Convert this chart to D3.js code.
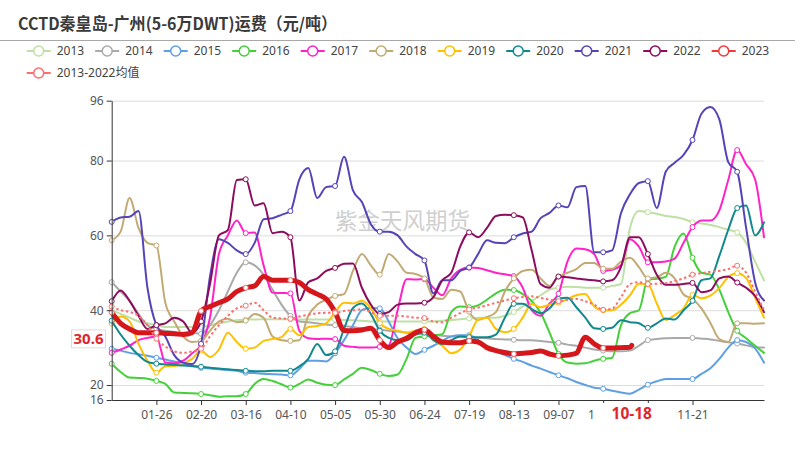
<!DOCTYPE html>
<html><head><meta charset="utf-8">
<script src="https://cdn.jsdelivr.net/npm/d3@7"></script>
<style>body{margin:0;background:#fff;} svg{display:block;}</style>
</head><body><svg id="c" width="806" height="460"></svg>
<script>
const title = "CCTD秦皇岛-广州(5-6万DWT)运费（元/吨）";
const watermark = "紫金天风期货";
const seriesNames = ["2013","2014","2015","2016","2017","2018","2019","2020","2021","2022","2023","2013-2022均值"];
const seriesColors = ["#bfe0a4","#a9a9a9","#5f9fe4","#45d03a","#ff22c8","#c2aa74","#ffc000","#11898c","#5444b8","#8c0c5e","#d5161b","#ff6e6e"];
const tickLabels = ["01-26","02-20","03-16","04-10","05-05","05-30","06-24","07-19","08-13","09-07","10-02","10-27","11-21"];
const hiddenTickLabels = ["10-27"];
const yTicks = [16,20,40,60,80,96];
const gridValues = [20,40,60,80,96];
const sampleStep = 5; // one value every 5 days, starting 01-01

const s2013 = [40,39,38,37,36.5,36,35.5,35.5,35.5,35.5, 35.5,36,36.5,37,37.3,37.5,37.5,37.6,37.6,37.6, 37.6,37.5,37.5,37.5,37.5,37.5,37.4,37.3,37.2,37, 37,37,37,37,37,37,37,37.2,37.4,37.6, 37.8,38,38,38,38.5,39.5,41,42.5,44,45.5, 46,46.3,46.2,46,46,46,46.5,47,62,66.5, 66.2,65.8,65.2,64.9,64.4,63.5,63.2,62.8,62.2,61.5, 60.8,58,53,48];
const s2014 = [47.5,45,42.5,39,36,35,34.5,34.2,34,34, 33.7,36,40,45,50,52.8,52,49.5,45.5,41.5, 38.5,37,36.8,36.5,36.2,36,35.8,35.5,35.2,35, 34.8,34.5,34.3,34,33.8,33.6,33.4,33.2,33,33, 32.8,32.6,32.5,32.3,32.2,32.1,32,32,31.8,31.5, 31.3,30.8,30.5,30,29.5,29.2,29,29,29.2,30.5, 32,32.3,32.5,32.6,32.6,32.6,32.4,32.2,31.8,31.4, 31.1,30.6,30.1,30];
const s2015 = [29.7,29.2,28.6,28.2,27.8,27.3,26.8,26.3,25.6,25, 24.6,24.4,24.2,24,23.8,23.3,23.2,23,22.9,22.8, 22.6,24.3,26.5,26.5,26.3,28.5,32,36,40,40.6, 40.5,37,32.5,30,28.3,29.4,30.5,31.8,33,33.3, 33.3,32,30,29,28,27,26.2,25.2,24.4,23.5, 22.6,21.8,20.8,20,19.3,19,18.5,18,17.7,18.8, 20.1,21,21.6,21.6,21.6,21.6,23,24.5,27,30, 32,31.5,29.8,26];
const s2016 = [25.7,23.5,22,21.9,21.7,21.1,20.3,18,17.9,17.8, 17.6,17.3,16.9,17,17,17.6,20.3,21.6,21.1,20.2, 19.3,20.3,21.5,20.6,20.1,20,21.5,23,24.6,24, 23,22.4,22.8,27,32.6,33,33.3,33.6,39.5,41, 40.8,41.3,42.8,44.5,45.5,45.4,44.3,42.5,39.3,34, 28.3,26,25.7,25.8,26.5,27,27.3,36,39.2,40, 48.2,48.4,48.9,57,60.5,54,50,49.5,45.5,39.5, 34.5,32.5,30.5,28.6];
const s2017 = [28.6,29.5,30.5,32,32.6,33,26,25.8,26.5,28.5, 30.8,38,55,60,64,60.6,60.8,52,44.7,44.6, 44.5,34.5,32.5,32.3,32.4,32.3,30.5,30.2,30,30, 30.2,30.6,40,48.3,48.2,48.3,46,44,48.5,50.8, 51.4,51.3,50.7,50,49.6,49.1,46,40,38.5,41.8, 44.4,53,56.5,56.3,55,50.5,50.8,52,59,57, 52.8,52.8,53,53.8,58,62.2,64,64,66.7,74.8, 82.8,79,75,59.5];
const s2018 = [58.7,61,70,62,58,57.3,42,37,33,31.5, 31.8,34.5,37,37.7,36.8,37.2,39,38,33,32, 31.8,32,38.5,41.5,42.8,43.8,44.3,50.5,55,52, 49.5,55,53,50,49.7,48.5,43.4,43,45.5,45, 39.6,37.4,38.2,39.5,45,48.5,50.5,50.8,48.5,46.5, 49,50,51,52.6,52.6,51.1,51.1,53,54,51.5, 48.5,48.8,50,48.5,44.2,43,40.5,36.6,32.3,31.5, 36.5,36.5,36.4,36.5];
const s2019 = [36.4,38.3,37,31,26.5,23.3,25,25.1,25.8,27, 29.2,27.5,29.5,34,31.5,29.7,30,31.8,32.3,32.8, 35,33.3,35.5,35.8,36.5,39.5,42,41.8,42.5,40.5, 36.5,35,34.5,34,34.5,35,32,30.5,28.5,29.5, 33,37.5,38,35,34.1,35,38,41.7,40.8,41.5, 42,43,44,44.3,41,40,40,41.5,44,47.1, 47,41.8,37.4,38.7,40.5,44.1,43.2,43.9,45.9,48.9, 49.9,48.6,43.4,38];
const s2020 = [37.2,33.5,30.5,28,26.2,25.7,25.5,25.4,25.2,25.1, 24.9,24.6,24.4,24.2,24,23.8,23.7,23.7,23.8,23.8, 23.8,25,27,31,28,29,35,40.6,41.8,39, 34.5,32.6,32,32,33.5,34,32,31,32,33, 32.8,32.8,32.8,33.5,38,41.7,41.7,40.3,39.2,40.5, 43,43.3,40.8,38,35.2,35,35.3,37.3,36.8,36.5, 35.3,36.5,37.8,37.5,40,42.5,48,48.5,54.5,61.5, 67.3,68,60,63.5];
const s2021 = [63.6,64.8,65,66.5,46,36,33,28,26,25.6, 31,49,59,58,56,55,58,64.3,64.6,65.5, 66.5,75,78,70,72.9,73.2,81,72,68.9,63, 61,61,60,57,55,53.3,44.5,48,48,50.5, 51.4,55,58.7,58,57.9,59.5,60.5,61,64.6,66, 68,67.5,72.9,73.2,55.5,55.5,56,66,71,74, 74.5,67.3,77,79.4,81.5,85.5,92.5,94.3,91,79.6, 77,62,47.5,42.6];
const s2022 = [42.4,45.3,42.5,38.5,35,36,36.5,38,37,34, 37,47,60,61.4,74.8,75,68,68.6,60.6,61, 59.5,42.6,47.5,48.5,50.5,51.3,52.4,52.5,46,41.5, 39,39.5,41.5,41.8,41.8,42,43.5,48,50,57, 60.8,59.5,62,65.2,65.5,65.4,64.8,56,47,46, 49,48.8,48.5,48.2,48,47.7,48,51.6,59.5,59.5, 55,49.5,46.8,46.8,47,47.3,44.8,45.3,48.5,49, 47.4,46,43.8,39.5];
const s2023 = [39.4,36.5,35,34,34,34,33.8,33.7,33.5,34, 39.8,41,42,43,45,46,46.5,49,48,48, 48,47.4,45.5,44.3,43,39.5,34.6,34.5,34.7,35.2, 32,30,31.5,32.5,34,34.8,33,31.5,31.3,31.3, 31.8,31.5,30,29.2,28.7,28.3,28.5,28.7,29.1,28.3, 27.8,28,28.5,32.8,31,29.9,29.9,30,30.1];
const sMean = [41,40,39.5,38.5,36,32.4,30.3,29,28.6,29, 29.7,33,36,38.5,40.5,41.2,42,40,38,37.8, 37.7,38.3,38.8,39.2,39.3,39.3,39.8,40,40.3,39.5, 38.5,38.5,38.5,38.3,38,37.9,37,36.8,38,39.2, 40.2,40.7,41.3,42,42.6,43.2,43.5,43.7,43.3,42.8, 42.4,42.8,43,42.4,41.5,40.1,40.4,43.5,47,47.5, 47,47.1,47.2,47.8,48.5,49.5,49.9,50.3,50.5,51, 51.9,50,45,40];
const latestDate = "10-18";
const latestValue = 30.6;

const seriesValues = [s2013,s2014,s2015,s2016,s2017,s2018,s2019,s2020,s2021,s2022,s2023,sMean];

// categories: every day of a (leap) calendar year as MM-DD
const categories = d3.timeDay.range(new Date(2020,0,1), new Date(2021,0,1)).map(d3.timeFormat("%m-%d"));

const svg = d3.select("#c");
const plotLeft = 111.7, plotRight = 764, plotTop = 100.7, plotBottom = 400;
const x = d3.scalePoint().domain(categories).range([plotLeft, plotRight]);
const y = d3.scaleLinear().domain([16, 96]).range([plotBottom, plotTop]);

// title
svg.append("text").attr("x", 18).attr("y", 30)
  .attr("font-family", "'Noto Sans CJK SC', sans-serif").attr("font-weight", "bold")
  .attr("font-size", 16.5).attr("fill", "#3a3a3a")
  .attr("textLength", 319).attr("lengthAdjust", "spacingAndGlyphs")
  .text(title);
svg.append("line").attr("x1", 0).attr("x2", 795).attr("y1", 40.5).attr("y2", 40.5)
  .attr("stroke", "#a8a8a8").attr("stroke-width", 1);

// legend
const lg = svg.append("g");
seriesNames.forEach((name, i) => {
  const lx = i < 11 ? 26.7 + i * 68.5 : 26.7;
  const ly = i < 11 ? 51 : 73;
  const col = i === 10 ? "#f03a3a" : seriesColors[i];
  const g = lg.append("g").attr("transform", `translate(${lx},${ly})`);
  g.append("line").attr("x1", 0).attr("x2", 24).attr("y1", 0).attr("y2", 0)
    .attr("stroke", col).attr("stroke-width", 2);
  g.append("circle").attr("cx", 12).attr("cy", 0).attr("r", 5)
    .attr("fill", "#fff").attr("stroke", col).attr("stroke-width", 1.5);
  g.append("text").attr("x", 30).attr("y", 4.3)
    .attr("font-family", "'Noto Sans', 'Noto Sans CJK SC', sans-serif")
    .attr("font-size", 12).attr("fill", "#444").text(name);
});

// grid
svg.append("g").selectAll("line").data(gridValues).join("line")
  .attr("x1", plotLeft).attr("x2", plotRight)
  .attr("y1", d => y(d) + 0.5).attr("y2", d => y(d) + 0.5)
  .attr("stroke", "#dcdcdc").attr("stroke-width", 1);

// watermark
svg.append("text").attr("x", 335).attr("y", 229)
  .attr("font-family", "'Noto Sans CJK SC', sans-serif")
  .attr("font-size", 22.5).attr("fill", "#cfcfcf").text(watermark);

// series
const line = d3.line().x(d => x(d.date)).y(d => y(d.v)).curve(d3.curveMonotoneX);
seriesValues.forEach((vals, i) => {
  const pts = vals.map((v, k) => ({date: categories[k * sampleStep], v, k}));
  if (i === 10) pts.push({date: latestDate, v: latestValue, k: -1});
  const isRed = i === 10, isMean = i === 11;
  svg.append("path").datum(pts).attr("d", line).attr("fill", "none")
    .attr("stroke", seriesColors[i])
    .attr("stroke-width", isRed ? 5 : 2)
    .attr("stroke-linejoin", "round").attr("stroke-linecap", isMean ? "butt" : "round")
    .attr("stroke-dasharray", isMean ? "2.5,2.5" : null);
  svg.append("g").selectAll("circle").data(pts.filter(p => p.k >= 0 && p.k % 5 === 0)).join("circle")
    .attr("cx", d => x(d.date)).attr("cy", d => y(d.v)).attr("r", 2.5)
    .attr("fill", "#fff").attr("stroke", isRed ? "#f07070" : seriesColors[i]).attr("stroke-width", 1);
});

// axes
const yAxis = svg.append("g").attr("transform", `translate(${plotLeft},0)`)
  .call(d3.axisLeft(y).tickValues(yTicks).tickSize(5).tickSizeOuter(0).tickPadding(3));
yAxis.select(".domain").attr("stroke", "#333");
yAxis.selectAll(".tick line").attr("stroke", "#333");
yAxis.selectAll("text").attr("font-family", "'Noto Sans', sans-serif").attr("font-size", 12).attr("fill", "#555");

const xAxis = svg.append("g").attr("transform", `translate(0,${plotBottom})`)
  .call(d3.axisBottom(x).tickValues(tickLabels).tickSize(5).tickSizeOuter(0).tickPadding(5)
    .tickFormat(d => hiddenTickLabels.includes(d) ? "" : d));
xAxis.select(".domain").attr("stroke", "#333");
xAxis.selectAll(".tick line").attr("stroke", "#333");
xAxis.selectAll("text").attr("font-family", "'Noto Sans', sans-serif").attr("font-size", 12).attr("fill", "#555");

// axis pointer labels
const yl = y(latestValue) - 6.5;
svg.append("rect").attr("x", 71.5).attr("y", yl - 9).attr("width", 34).attr("height", 18)
  .attr("fill", "#fff").attr("stroke", "#ddd");
svg.append("text").attr("x", 88.5).attr("y", yl + 5.5).attr("text-anchor", "middle")
  .attr("font-family", "'Noto Sans', sans-serif").attr("font-weight", "bold")
  .attr("font-size", 15).attr("fill", "#e0262b").text(latestValue);

const xl = x(latestDate);
svg.append("rect").attr("x", xl - 38).attr("y", 403).attr("width", 76).attr("height", 21).attr("fill", "#fff");
svg.append("text").attr("x", xl).attr("y", 418.5).attr("text-anchor", "middle")
  .attr("font-family", "'Noto Sans', sans-serif").attr("font-weight", "bold")
  .attr("font-size", 15.5).attr("fill", "#e0262b").text(latestDate);
</script></body></html>
